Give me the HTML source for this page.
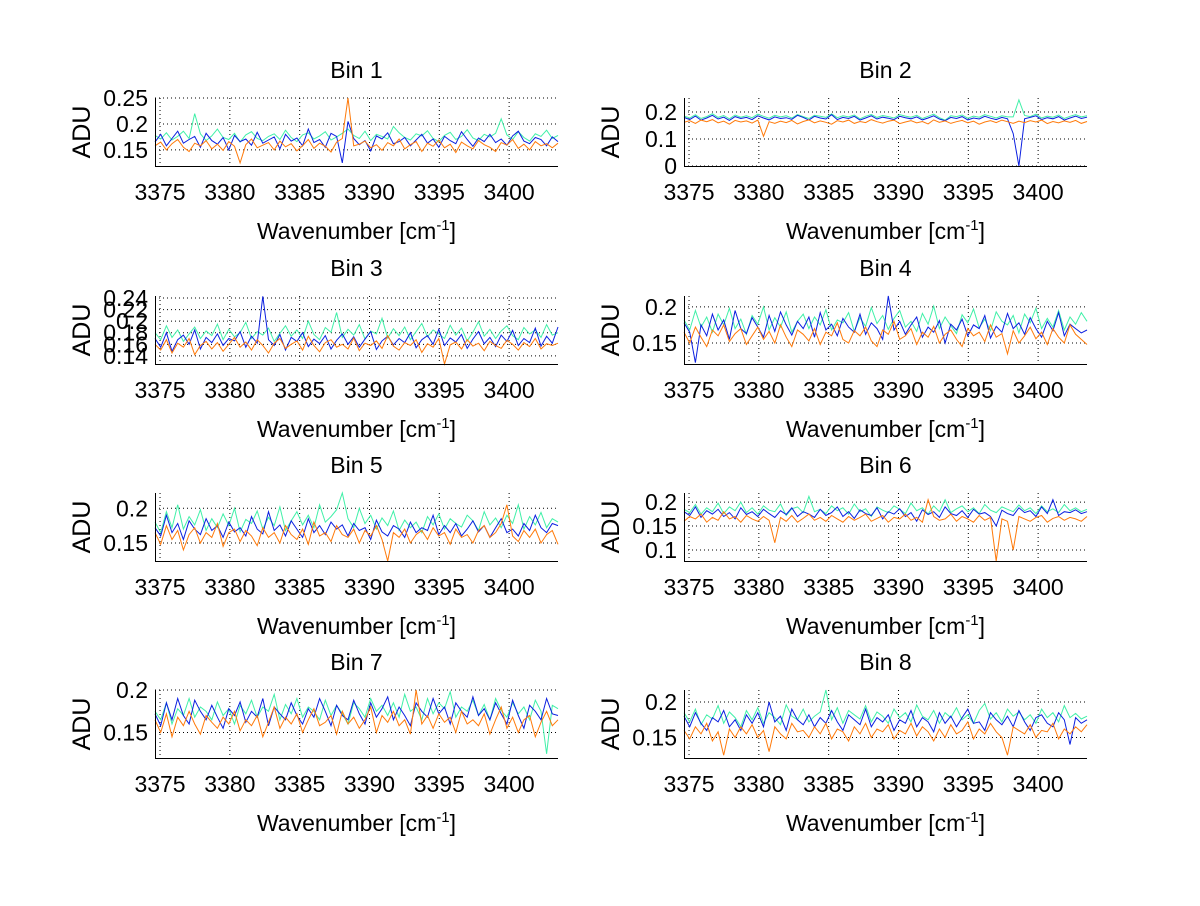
<!DOCTYPE html>
<html><head><meta charset="utf-8"><style>
body{margin:0;background:#fff}
svg text{font-family:"Liberation Sans",sans-serif;fill:#000}
</style></head><body>
<svg id="fig" width="1200" height="901" viewBox="0 0 1200 901" xmlns="http://www.w3.org/2000/svg"></svg>
<script>
const xMin = 3374.64, xMax = 3403.5;
const xTicks = [3375, 3380, 3385, 3390, 3395, 3400];
const seriesColors = ['#40f0a8', '#0b1fe0', '#ff7a0a'];
const seriesNames = ['green', 'blue', 'orange'];
const binTitles = ['Bin 1','Bin 2','Bin 3','Bin 4','Bin 5','Bin 6','Bin 7','Bin 8'];
const yLimits = [[0.119,0.25],[0,0.252],[0.126,0.2435],[0.121,0.215],[0.124,0.222],[0.077,0.219],[0.12,0.2],[0.121,0.217]];
const yTicks = [[0.15,0.2,0.25],[0,0.1,0.2],[0.14,0.16,0.18,0.2,0.22,0.24],[0.15,0.2],[0.15,0.2],[0.1,0.15,0.2],[0.15,0.2],[0.15,0.2]];
const yTickLabels = [['0.15','0.2','0.25'],['0','0.1','0.2'],['0.14','0.16','0.18','0.2','0.22','0.24'],['0.15','0.2'],['0.15','0.2'],['0.1','0.15','0.2'],['0.15','0.2'],['0.15','0.2']];
// values in milli-ADU
const bin1Green=[178,171,183,169,176,186,172,220,181,168,177,190,174,170,182,165,179,185,172,168,176,181,170,188,174,166,179,183,171,177,185,169,175,182,190,178,172,186,168,180,176,171,195,183,174,169,181,177,187,172,166,178,184,170,176,189,173,168,180,175,182,210,179,170,185,174,167,181,176,188,172,178];
const bin1Blue=[165,180,158,172,186,163,170,176,155,182,168,161,174,150,178,166,171,159,184,163,169,175,152,180,167,173,158,190,164,170,155,182,176,125,205,172,160,168,148,177,171,183,162,166,174,158,169,180,163,171,155,176,168,162,185,170,157,173,166,180,164,171,159,177,186,167,162,174,170,158,175,166];
const bin1Orange=[158,165,150,162,170,155,147,163,158,168,152,161,149,166,157,125,160,171,154,159,164,150,167,156,162,148,158,170,153,163,157,146,165,172,250,158,161,167,154,160,149,164,158,171,152,160,166,147,163,157,169,154,161,145,165,158,152,168,160,155,147,164,159,170,153,161,150,166,158,162,154,163];
const bin2Green=[185,178,190,176,183,194,180,187,175,189,181,186,179,192,184,177,188,182,186,178,191,183,176,188,184,180,193,179,186,182,189,175,184,191,180,187,183,178,190,185,181,188,176,184,192,179,170,186,183,189,177,185,181,190,184,178,186,182,182,245,187,183,192,178,185,181,189,176,184,190,182,186];
const bin2Blue=[180,172,185,170,178,188,174,181,169,183,176,180,172,186,178,171,182,176,179,173,188,180,170,184,178,174,190,172,180,176,184,170,178,186,174,181,177,172,184,179,175,182,171,178,186,174,168,180,176,183,171,178,174,184,177,172,180,175,120,0,175,180,186,172,179,175,183,170,178,185,176,181];
const bin2Orange=[162,168,158,170,164,172,160,166,155,169,163,167,159,170,110,164,158,166,161,169,156,165,171,160,167,162,155,168,163,170,158,165,161,172,164,159,166,170,157,163,168,160,165,156,171,162,167,158,164,169,160,166,155,163,168,161,170,164,158,166,161,168,163,170,157,165,160,167,162,169,158,165];
const bin3Green=[180,168,192,172,185,165,178,190,170,183,175,195,168,186,173,180,198,170,182,176,188,165,179,192,174,185,170,200,177,168,189,181,215,172,186,176,194,169,183,178,205,171,187,175,190,168,182,196,173,185,178,170,193,176,188,166,181,199,174,186,170,183,192,175,168,189,178,185,172,194,176,180];
const bin3Blue=[170,155,180,148,168,176,160,185,152,172,163,178,158,170,166,182,155,174,162,243,168,158,177,150,172,165,180,156,169,161,175,152,167,178,160,173,155,169,182,151,166,174,159,170,163,180,154,168,175,160,186,158,171,164,177,153,169,182,161,172,156,176,165,184,158,170,163,188,157,174,162,190];
const bin3Orange=[160,150,168,145,162,155,170,142,158,165,152,163,148,160,172,155,164,150,168,158,145,162,170,153,160,166,150,174,158,147,163,168,155,160,152,171,149,162,158,166,153,175,157,150,163,158,168,146,161,155,170,126,159,164,152,168,157,162,149,165,158,153,167,160,150,163,156,170,152,161,158,162];
const bin4Green=[182,168,195,172,186,165,190,175,198,170,183,162,188,176,200,168,185,172,193,165,180,190,170,186,175,196,168,182,178,192,166,185,173,199,177,188,169,184,195,172,180,166,191,176,201,170,186,174,163,189,178,197,171,183,167,193,180,175,188,164,190,178,198,170,184,172,195,168,186,176,192,180];
const bin4Blue=[178,165,123,175,160,190,168,182,155,195,170,163,185,172,158,188,166,193,175,161,180,170,186,158,192,168,176,160,184,172,165,190,162,178,170,155,215,168,180,162,175,186,158,172,165,181,150,176,168,183,160,175,170,188,157,173,165,191,170,178,162,185,170,158,180,167,192,160,176,170,164,168];
const bin4Orange=[165,150,172,158,145,168,160,175,152,163,170,148,160,172,155,166,150,175,158,145,168,162,153,170,148,165,160,178,155,150,167,160,172,153,145,168,162,180,155,160,170,148,165,158,173,150,162,168,155,145,170,160,165,152,175,158,163,135,167,150,160,172,156,165,148,170,158,150,175,162,155,148];
const bin5Green=[180,165,195,172,205,170,188,176,198,168,185,172,192,175,200,166,184,178,196,170,187,175,202,168,182,195,176,190,172,205,180,188,198,222,185,172,200,178,190,170,186,175,196,168,183,172,180,165,188,176,192,170,185,178,173,190,182,168,195,176,186,172,190,178,205,170,188,176,194,172,185,180];
const bin5Blue=[172,160,190,165,178,155,182,170,162,185,168,175,158,180,166,172,160,188,170,163,195,168,176,160,182,170,158,185,165,175,162,180,170,176,160,178,168,172,155,183,166,160,175,170,158,180,165,172,168,190,162,175,165,178,160,170,182,166,175,158,172,185,165,170,160,178,168,190,172,165,178,175];
const bin5Orange=[165,148,175,155,168,140,162,172,150,165,158,178,145,165,170,152,168,160,146,172,158,165,150,175,162,155,170,148,180,160,165,152,175,162,158,170,150,168,160,175,155,124,165,158,170,150,162,168,155,172,160,165,148,170,158,162,150,168,175,158,165,178,205,160,152,168,158,170,150,162,168,148];
const bin6Green=[185,178,195,175,188,180,198,176,190,182,200,178,188,175,192,183,180,196,172,186,190,178,212,180,185,176,192,182,188,175,196,180,186,170,190,183,178,192,185,176,198,182,188,175,192,180,205,178,186,192,180,188,176,195,183,178,190,185,180,194,182,188,176,192,180,186,178,195,182,188,180,185];
const bin6Blue=[180,172,190,168,182,175,185,170,178,165,188,174,180,170,185,176,168,182,174,188,170,180,175,168,185,172,178,190,170,180,166,184,176,172,188,165,180,175,186,170,178,160,184,174,180,168,190,176,172,182,168,185,175,178,170,150,183,176,172,188,178,182,170,190,176,205,172,180,178,184,176,180];
const bin6Orange=[160,170,165,175,158,168,162,180,165,170,158,172,165,160,170,162,115,168,160,172,158,166,175,162,168,160,172,165,158,170,162,168,175,160,166,172,158,168,165,175,162,168,158,205,170,162,165,175,160,170,165,158,172,162,168,77,165,160,100,170,165,160,168,172,158,166,170,162,168,165,160,170];
const bin7Green=[175,165,185,160,178,170,190,168,180,175,165,186,170,178,160,182,172,188,168,180,175,195,165,183,172,190,168,180,175,165,188,170,182,172,160,185,178,168,190,175,182,170,185,168,195,175,180,165,190,172,185,178,198,168,180,175,188,170,183,165,190,176,168,185,172,180,165,188,175,125,182,178];
const bin7Blue=[172,158,185,165,190,170,160,188,175,165,182,168,155,178,170,186,162,175,168,190,158,180,172,165,185,170,160,178,168,190,175,158,182,170,165,188,172,160,185,168,178,192,165,180,170,158,185,175,168,190,172,180,160,185,175,168,192,170,178,165,185,172,160,188,170,155,182,175,165,190,172,170];
const bin7Orange=[165,150,172,145,168,158,175,160,148,170,162,155,168,160,175,152,165,158,170,145,162,180,155,168,160,172,150,165,178,158,162,170,148,175,160,168,155,165,180,150,170,162,175,158,165,148,200,160,170,155,172,162,168,150,175,160,165,158,172,148,165,180,155,168,150,165,170,145,162,175,158,165];
const bin8Green=[185,172,190,168,182,176,195,170,186,178,165,188,175,192,170,185,178,168,196,180,175,190,172,180,186,217,175,192,170,188,182,176,195,172,186,180,170,190,178,185,172,196,180,175,188,170,185,178,192,175,182,170,188,198,176,185,172,190,180,186,175,182,170,190,178,185,172,195,178,184,176,180];
const bin8Blue=[180,165,185,170,160,178,172,188,165,175,160,182,170,185,165,200,172,180,160,190,175,168,182,165,178,170,188,172,160,182,175,168,190,165,178,172,182,160,175,170,188,165,178,172,158,185,170,180,165,178,190,170,172,160,185,175,168,180,165,188,172,160,178,182,170,165,185,175,140,178,170,175];
const bin8Orange=[160,148,165,155,170,145,158,125,162,150,165,155,168,150,160,130,165,155,148,170,158,160,150,165,155,170,148,162,158,145,165,155,170,150,162,158,168,148,160,155,170,152,165,158,145,162,150,168,155,160,172,148,162,155,170,158,150,125,165,160,155,168,150,160,158,170,148,162,155,165,158,168];
const binSeries = [[bin1Green,bin1Blue,bin1Orange],[bin2Green,bin2Blue,bin2Orange],[bin3Green,bin3Blue,bin3Orange],[bin4Green,bin4Blue,bin4Orange],[bin5Green,bin5Blue,bin5Orange],[bin6Green,bin6Blue,bin6Orange],[bin7Green,bin7Blue,bin7Orange],[bin8Green,bin8Blue,bin8Orange]];

const NS='http://www.w3.org/2000/svg';
const svg=document.getElementById('fig');
function mk(tag, parent){const e=document.createElementNS(NS,tag);parent.appendChild(e);return e;}
const W=403, H=68;
for(let b=0;b<8;b++){
  const col=b%2, row=Math.floor(b/2);
  const L=155+col*529, T=[98,296,493,690][row];
  const g=mk('g',svg);
  
  
  const [y0,y1]=yLimits[b];
  const sx=v=>L+(v-xMin)/(xMax-xMin)*W;
  const sy=v=>T+H-(v-y0)/(y1-y0)*H;
  xTicks.forEach(t=>{
    const l=mk('line',g);
    
    
    l.setAttribute('x1',sx(t));l.setAttribute('x2',sx(t));l.setAttribute('y1',T);l.setAttribute('y2',T+H);
    l.setAttribute('stroke','#000');l.setAttribute('stroke-width','1');l.setAttribute('stroke-dasharray','1,3');
    const tk=mk('text',g);
    
    
    tk.setAttribute('x',sx(t));tk.setAttribute('y',T+H+34);tk.setAttribute('text-anchor','middle');tk.setAttribute('font-size','23');
    tk.textContent=t;
  });
  yTicks[b].forEach((t,i)=>{
    const l=mk('line',g);
    
    
    l.setAttribute('x1',L);l.setAttribute('x2',L+W);l.setAttribute('y1',sy(t));l.setAttribute('y2',sy(t));
    l.setAttribute('stroke','#000');l.setAttribute('stroke-width','1');l.setAttribute('stroke-dasharray','1,3');
    const tk=mk('text',g);
    
    
    tk.setAttribute('x',L-7);tk.setAttribute('y',sy(t)+8);tk.setAttribute('text-anchor','end');tk.setAttribute('font-size','23');
    tk.textContent=yTickLabels[b][i];
  });
  binSeries[b].forEach((vals,s)=>{
    const n=vals.length;
    const pts=vals.map((v,i)=>{
      const x=xMin+(xMax-xMin)*i/(n-1);
      return sx(x).toFixed(1)+','+sy(Math.max(y0,Math.min(y1,v/1000))).toFixed(1);
    }).join(' ');
    const p=mk('polyline',g);
    
    
    p.setAttribute('points',pts);p.setAttribute('fill','none');
    p.setAttribute('stroke',seriesColors[s]);p.setAttribute('stroke-width','1');
  });
  const ax=mk('path',g);
  
  
  ax.setAttribute('d',`M${L+0.5},${T} V${T+H+0.5} H${L+W}`);
  ax.setAttribute('stroke','#000');ax.setAttribute('fill','none');ax.setAttribute('stroke-width','1');
  const ti=mk('text',g);
  
  
  ti.setAttribute('x',L+W/2);ti.setAttribute('y',T-20);ti.setAttribute('text-anchor','middle');ti.setAttribute('font-size','23');
  ti.textContent=binTitles[b];
  const xl=mk('text',g);
  
  
  xl.setAttribute('x',L+W/2);xl.setAttribute('y',T+H+73);xl.setAttribute('text-anchor','middle');xl.setAttribute('font-size','23');
  xl.innerHTML='Wavenumber [cm<tspan dy="-9" font-size="15">-1</tspan><tspan dy="9">]</tspan>';
  const yl=mk('text',g);
  
  
  yl.setAttribute('transform',`translate(${L-73},${T+H/2}) rotate(-90)`);
  yl.setAttribute('text-anchor','middle');yl.setAttribute('y','8');yl.setAttribute('font-size','25');
  yl.textContent='ADU';
}
</script>
</body></html>
